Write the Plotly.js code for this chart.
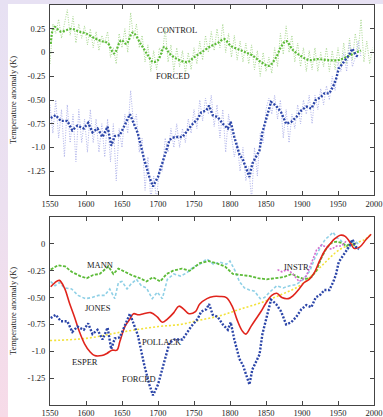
<!DOCTYPE html>
<html>
<head>
<meta charset="utf-8">
<script src="https://cdn.plot.ly/plotly-3.0.1.min.js"></script>
<style>
  html, body { margin: 0; padding: 0; }
  body { width: 383px; height: 417px; overflow: hidden;
         background: linear-gradient(to bottom, #e7e1f3 0%, #ece0f0 50%, #f7dbe8 100%); position: relative; }
  #chart { position: absolute; left: 8px; top: 4px; width: 375px; height: 413px; background: #ffffff; }
</style>
</head>
<body>
<div id="chart"></div>
<script>
// ---------- DATA ----------
const rawStartYear = 1550;
const rawStepYears = 4;

// Top panel: unsmoothed CONTROL run (every 4 years from 1550)
const controlRaw = [-0.12,0.30,0.20,0.35,0.15,0.32,0.45,0.18,0.38,0.10,0.30,0.15,0.28,0.08,0.25,0.05,0.22,0.02,0.18,0.10,
  0.22,-0.05,0.05,-0.12,0.20,0.05,0.25,0.00,0.42,0.15,0.30,0.05,0.18,-0.10,0.08,-0.20,0.02,-0.18,0.05,-0.02,
  0.25,-0.10,0.08,-0.20,0.05,-0.15,0.02,-0.22,0.00,-0.18,0.05,-0.12,0.12,-0.08,0.18,0.00,0.22,0.02,0.25,0.05,
  0.30,0.00,0.20,-0.05,0.18,-0.08,0.12,-0.10,0.10,-0.12,0.08,-0.18,0.02,-0.25,0.00,-0.20,-0.05,-0.22,0.05,-0.15,
  0.20,-0.02,0.28,0.00,0.18,-0.10,0.10,-0.15,0.05,-0.20,0.02,-0.18,0.05,-0.20,0.00,-0.15,0.05,-0.20,0.02,-0.18,
  0.05,-0.15,0.10,-0.12,0.15,-0.08,0.20,0.00,0.35,-0.10,0.12,-0.12,0.05];

// Top panel: unsmoothed FORCED run (every 4 years from 1550)
const forcedRaw = [-0.55,-0.85,-0.50,-0.90,-0.60,-1.10,-0.55,-0.95,-0.65,-1.15,-0.60,-0.95,-0.70,-1.05,-0.60,-0.95,-0.70,-1.05,-0.75,-1.10,
  -0.70,-1.15,-0.75,-1.35,-0.80,-1.00,-0.65,-0.85,-0.40,-0.75,-0.65,-1.05,-0.90,-1.45,-1.10,-1.55,-1.30,-1.55,-1.20,-1.25,
  -0.90,-1.05,-0.80,-1.00,-0.75,-1.00,-0.80,-0.95,-0.70,-0.85,-0.60,-0.80,-0.50,-0.72,-0.48,-0.65,-0.45,-0.78,-0.55,-0.90,
  -0.60,-1.05,-0.65,-0.85,-1.10,-0.95,-1.25,-1.00,-1.35,-1.20,-1.55,-1.00,-1.30,-0.85,-0.95,-0.60,-0.48,-0.65,-0.45,-0.70,
  -0.50,-0.90,-0.60,-0.95,-0.65,-0.80,-0.55,-0.75,-0.50,-0.65,-0.45,-0.75,-0.45,-0.60,-0.38,-0.55,-0.35,-0.50,-0.25,-0.40,
  -0.10,-0.20,0.00,-0.20,0.10,-0.15,-0.05,0.12,-0.05];

// Smoothed CONTROL
const controlYears = [1551,1556,1565,1580,1590,1600,1612,1621,1630,1639,1649,1656,1665,1676,1686,1693,1700,1709,1716,1727,
  1741,1750,1760,1774,1783,1792,1801,1813,1822,1831,1843,1854,1864,1871,1878,1887,1899,1910,1922,1936,1950,1961,1972,1982];
const controlSmooth = [0.09,0.27,0.22,0.25,0.22,0.20,0.15,0.12,0.10,-0.01,0.13,0.09,0.21,0.09,-0.03,-0.10,-0.08,0.06,-0.01,-0.07,
  -0.10,-0.05,0.00,0.07,0.10,0.14,0.07,0.03,0.00,-0.03,-0.10,-0.14,-0.05,0.06,0.12,0.03,-0.04,-0.08,-0.07,-0.08,-0.08,-0.05,-0.01,0.02];

// Smoothed FORCED (both panels)
const forcedYears = [1551,1558,1565,1574,1581,1588,1597,1603,1609,1616,1623,1630,1635,1640,1647,1654,1661,1672,1681,1688,
  1693,1700,1709,1716,1723,1734,1746,1755,1760,1767,1771,1776,1783,1790,1797,1801,1806,1813,1818,1822,
  1827,1831,1836,1841,1845,1850,1857,1864,1871,1878,1885,1892,1899,1906,1913,1919,1926,1931,1938,1943,
  1947,1951,1958,1965,1970,1975,1979];
const forcedSmooth = [-0.69,-0.66,-0.72,-0.72,-0.82,-0.77,-0.80,-0.74,-0.84,-0.80,-0.89,-0.78,-0.98,-0.88,-0.87,-0.76,-0.65,-0.85,-1.13,-1.31,
  -1.41,-1.31,-1.10,-0.92,-0.89,-0.89,-0.77,-0.70,-0.63,-0.61,-0.56,-0.66,-0.68,-0.75,-0.80,-0.73,-0.89,-1.07,-1.13,-1.22,
  -1.31,-1.17,-1.10,-1.03,-0.84,-0.71,-0.52,-0.56,-0.63,-0.75,-0.73,-0.68,-0.61,-0.57,-0.59,-0.50,-0.47,-0.43,-0.43,-0.36,
  -0.29,-0.17,-0.10,-0.03,0.04,-0.03,-0.05];

// Bottom panel reconstructions
const mannYears = [1551,1561,1571,1580,1592,1601,1610,1619,1631,1638,1645,1654,1663,1675,1684,1693,1703,1712,1721,1733,
  1744,1758,1770,1781,1793,1804,1816,1828,1839,1851,1862,1874,1886,1895,1904,1913,1920,1927,1934,1941,
  1948,1955,1962,1969,1975];
const mannValues = [-0.24,-0.20,-0.21,-0.26,-0.30,-0.32,-0.29,-0.28,-0.21,-0.28,-0.23,-0.26,-0.29,-0.32,-0.35,-0.31,-0.35,-0.28,-0.25,-0.23,
  -0.25,-0.18,-0.16,-0.18,-0.21,-0.28,-0.29,-0.30,-0.32,-0.33,-0.32,-0.31,-0.28,-0.31,-0.33,-0.31,-0.25,-0.13,-0.04,0.01,
  0.02,0.01,-0.02,0.02,-0.04];

const jonesYears = [1551,1557,1563,1570,1580,1589,1599,1608,1617,1626,1633,1640,1645,1650,1657,1663,1670,1677,1684,1692,
  1699,1706,1713,1722,1731,1740,1750,1758,1768,1777,1786,1795,1800,1807,1813,1820,1827,1834,1842,1848,
  1855,1865,1874,1883,1892,1902,1911,1918,1925,1932,1939,1943,1948,1953,1960,1964,1969,1973,1978];
const jonesValues = [-0.35,-0.39,-0.36,-0.41,-0.42,-0.48,-0.51,-0.50,-0.48,-0.48,-0.42,-0.51,-0.36,-0.35,-0.42,-0.37,-0.33,-0.39,-0.41,-0.51,
  -0.45,-0.51,-0.33,-0.28,-0.30,-0.27,-0.21,-0.19,-0.14,-0.19,-0.17,-0.19,-0.16,-0.25,-0.35,-0.41,-0.43,-0.44,-0.51,-0.50,
  -0.45,-0.39,-0.41,-0.39,-0.38,-0.33,-0.25,-0.13,-0.04,0.04,0.08,0.11,0.06,0.04,-0.02,-0.05,0.00,0.03,0.00];

const esperYears = [1551,1557,1563,1570,1577,1584,1591,1598,1605,1612,1622,1629,1636,1643,1647,1654,1661,1666,1673,1680,
  1690,1699,1706,1713,1722,1729,1736,1743,1752,1758,1768,1777,1786,1795,1803,1810,1817,1822,1829,1836,
  1843,1850,1858,1865,1872,1881,1888,1896,1903,1910,1917,1925,1932,1939,1946,1953,1960,1968,1972,1980,
  1989,1996];
const esperValues = [-0.40,-0.36,-0.34,-0.41,-0.55,-0.68,-0.82,-0.93,-1.00,-1.04,-1.04,-1.02,-0.99,-0.99,-0.91,-0.77,-0.70,-0.65,-0.66,-0.65,
  -0.64,-0.68,-0.73,-0.70,-0.64,-0.58,-0.61,-0.65,-0.63,-0.56,-0.51,-0.49,-0.49,-0.50,-0.58,-0.71,-0.81,-0.84,-0.77,-0.70,
  -0.63,-0.55,-0.48,-0.46,-0.50,-0.51,-0.48,-0.42,-0.36,-0.33,-0.27,-0.15,-0.06,0.00,0.05,0.08,0.07,0.00,-0.04,-0.03,
  0.04,0.09];

const pollackYears = [1550,1600,1650,1700,1731,1758,1786,1813,1842,1872,1899,1925,1953,1987,1996];
const pollackValues = [-0.90,-0.88,-0.82,-0.77,-0.75,-0.71,-0.67,-0.61,-0.55,-0.47,-0.38,-0.22,-0.05,0.04,0.09];

const instrYears = [1866,1872,1879,1886,1891,1896,1901,1906,1913,1920,1927,1934,1941,1948,1955,1962];
const instrValues = [-0.24,-0.26,-0.24,-0.27,-0.31,-0.35,-0.33,-0.30,-0.18,-0.06,-0.01,-0.03,-0.05,-0.02,-0.02,0.03];

const xTicks = [1550,1600,1650,1700,1750,1800,1850,1900,1950,2000];
const xTickText = ['1550','1600','1650','1700','1750','1800','1850','1900','1950','2000'];
const yTicksTop = [0.25,0,-0.25,-0.5,-0.75,-1.0,-1.25];
const yTickTextTop = ['0.25','0','-0.25','-0.50','-0.75','-1.0','-1.25'];
const yTicksBottom = [0,-0.25,-0.5,-0.75,-1.0,-1.25];
const yTickTextBottom = ['0','-0.25','-0.50','-0.75','-1.0','-1.25'];
const yTitle = 'Temperature anomaly (K)';

// ---------- CHART ----------
const serif = 'Liberation Serif, Times New Roman, serif';
const fnt = {family: serif, size: 8.5, color: '#222'};

const traces = [
  {x0: rawStartYear, dx: rawStepYears, y: controlRaw, type: 'scatter', mode: 'lines',
   line: {color: '#a8d890', width: 1, dash: '1px,1.5px'}, xaxis: 'x', yaxis: 'y', hoverinfo: 'skip'},
  {x0: rawStartYear, dx: rawStepYears, y: forcedRaw, type: 'scatter', mode: 'lines',
   line: {color: '#adb1ea', width: 1, dash: '1px,1.5px'}, xaxis: 'x', yaxis: 'y', hoverinfo: 'skip'},
  {x: controlYears, y: controlSmooth, type: 'scatter', mode: 'lines', line: {shape: 'spline', color: '#5cbb38', width: 2.2, dash: '2px,1.5px'}, xaxis: 'x', yaxis: 'y'},
  {x: forcedYears, y: forcedSmooth, type: 'scatter', mode: 'lines', line: {color: '#2b45a8', width: 2.4, dash: '2px,1.6px'}, xaxis: 'x', yaxis: 'y'},

  {x: pollackYears, y: pollackValues, type: 'scatter', mode: 'lines', line: {shape: 'spline', color: '#f2e23a', width: 1.6, dash: '2px,2px'}, xaxis: 'x2', yaxis: 'y2'},
  {x: jonesYears, y: jonesValues, type: 'scatter', mode: 'lines', line: {color: '#8fd0e6', width: 1.6, dash: '3px,2px'}, xaxis: 'x2', yaxis: 'y2'},
  {x: mannYears, y: mannValues, type: 'scatter', mode: 'lines', line: {color: '#5cbb38', width: 1.8, dash: '3px,1.5px'}, xaxis: 'x2', yaxis: 'y2'},
  {x: instrYears, y: instrValues, type: 'scatter', mode: 'lines', line: {color: '#d66ed0', width: 1.6, dash: '2px,1.5px'}, xaxis: 'x2', yaxis: 'y2'},
  {x: esperYears, y: esperValues, type: 'scatter', mode: 'lines', line: {shape: 'spline', color: '#e0241c', width: 1.6}, xaxis: 'x2', yaxis: 'y2'},
  {x: forcedYears, y: forcedSmooth, type: 'scatter', mode: 'lines', line: {color: '#2b45a8', width: 2.4, dash: '2px,1.6px'}, xaxis: 'x2', yaxis: 'y2'}
];

function xAxis(anchor, standoff) {
  return {domain: [0, 1], range: [1550, 2000], anchor: anchor, tickmode: 'array', tickvals: xTicks, ticktext: xTickText,
    ticks: 'inside', ticklen: 4, tickcolor: '#444', showline: true, linecolor: '#444', linewidth: 1, mirror: 'ticks',
    showgrid: false, zeroline: false, tickfont: fnt, ticklabelstandoff: standoff, fixedrange: true};
}
function yAxis(anchor, dom, rng, tv, tt) {
  return {domain: dom, range: rng, anchor: anchor, tickmode: 'array', tickvals: tv, ticktext: tt,
    ticks: 'inside', ticklen: 4, tickcolor: '#444', showline: true, linecolor: '#444', linewidth: 1, mirror: 'ticks',
    showgrid: false, zeroline: false, tickfont: fnt, ticklabelstandoff: 2, fixedrange: true};
}

const ann = (text, x, y, xr, yr) => ({text: text, x: x, y: y, xref: xr, yref: yr, showarrow: false, font: fnt});

const layout = {
  width: 375, height: 413,
  margin: {l: 42, r: 9, t: 1, b: 12},
  paper_bgcolor: '#ffffff', plot_bgcolor: '#ffffff',
  showlegend: false,
  xaxis: xAxis('y', 1),
  yaxis: yAxis('x', [0.525, 1], [-1.5, 0.5], yTicksTop, yTickTextTop),
  xaxis2: xAxis('y2', 0),
  yaxis2: yAxis('x2', [0, 0.47], [-1.5, 0.25], yTicksBottom, yTickTextBottom),
  annotations: [
    ann('CONTROL', 1726, 0.24, 'x', 'y'),
    ann('FORCED', 1721, -0.25, 'x', 'y'),
    ann('MANN', 1619, -0.20, 'x2', 'y2'),
    ann('JONES', 1617, -0.60, 'x2', 'y2'),
    ann('ESPER', 1598, -1.10, 'x2', 'y2'),
    ann('FORCED', 1673, -1.26, 'x2', 'y2'),
    ann('POLLACK', 1705, -0.91, 'x2', 'y2'),
    ann('INSTR', 1892, -0.22, 'x2', 'y2'),
    {text: yTitle, textangle: -90, x: -0.114, y: 0.7625, xref: 'paper', yref: 'paper', xanchor: 'center', yanchor: 'middle', showarrow: false, font: fnt},
    {text: yTitle, textangle: -90, x: -0.114, y: 0.235, xref: 'paper', yref: 'paper', xanchor: 'center', yanchor: 'middle', showarrow: false, font: fnt}
  ]
};

Plotly.newPlot('chart', traces, layout, {staticPlot: true, displayModeBar: false});
</script>
</body>
</html>
